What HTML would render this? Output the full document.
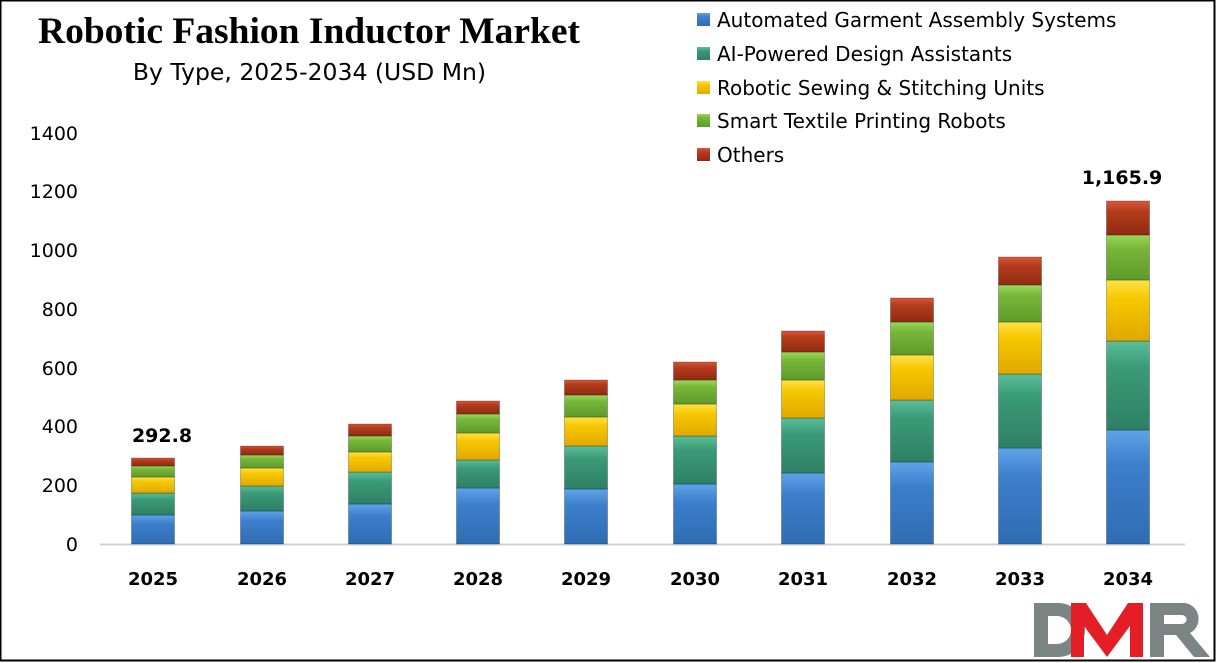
<!DOCTYPE html><html><head><style>body{margin:0;background:#fff}svg{display:block}</style></head><body>
<svg width="1216" height="663" xmlns="http://www.w3.org/2000/svg" font-family="DejaVu Sans, sans-serif">
<defs>
<linearGradient id="gb" x1="0" x2="0" y1="0" y2="1"><stop offset="0" stop-color="#5fa3ea"/><stop offset="0.3" stop-color="#3c7fcb"/><stop offset="1" stop-color="#2f6cb3"/></linearGradient>
<linearGradient id="gg" x1="0" x2="0" y1="0" y2="1"><stop offset="0" stop-color="#5cbf98"/><stop offset="0.3" stop-color="#3a9a78"/><stop offset="1" stop-color="#2e8064"/></linearGradient>
<linearGradient id="gy" x1="0" x2="0" y1="0" y2="1"><stop offset="0" stop-color="#ffe14a"/><stop offset="0.3" stop-color="#f7c800"/><stop offset="1" stop-color="#e0a800"/></linearGradient>
<linearGradient id="gl" x1="0" x2="0" y1="0" y2="1"><stop offset="0" stop-color="#9ad85a"/><stop offset="0.3" stop-color="#78b63a"/><stop offset="1" stop-color="#5e9a2a"/></linearGradient>
<linearGradient id="gr" x1="0" x2="0" y1="0" y2="1"><stop offset="0" stop-color="#d8583a"/><stop offset="0.3" stop-color="#b53c1c"/><stop offset="1" stop-color="#8f2a12"/></linearGradient>
</defs>
<rect x="0.5" y="0.5" width="1214" height="660" fill="#fff" stroke="#000" stroke-width="2"/>
<text x="309" y="43" text-anchor="middle" font-family="Liberation Serif, serif" font-weight="bold" font-size="37.5">Robotic Fashion Inductor Market</text>
<text x="309.5" y="80" text-anchor="middle" font-size="23.5">By Type, 2025-2034 (USD Mn)</text>
<g font-size="19" text-anchor="end" fill="#000">
<text x="78" y="551">0</text><text x="78" y="492">200</text><text x="78" y="433">400</text><text x="78" y="375">600</text><text x="78" y="316">800</text><text x="78" y="257">1000</text><text x="78" y="198">1200</text><text x="78" y="140">1400</text>
</g>
<line x1="100" y1="544.5" x2="1185" y2="544.5" stroke="#d0d0d0" stroke-width="2"/>
<g stroke="rgba(0,0,0,0.25)" stroke-width="1">
<g transform="translate(131.5,0)"><rect y="515" width="43" height="29" fill="url(#gb)"/><rect y="493" width="43" height="22" fill="url(#gg)"/><rect y="477" width="43" height="16" fill="url(#gy)"/><rect y="466" width="43" height="11" fill="url(#gl)"/><rect y="458" width="43" height="8" fill="url(#gr)"/></g>
<g transform="translate(240.5,0)"><rect y="511" width="43" height="33" fill="url(#gb)"/><rect y="486" width="43" height="25" fill="url(#gg)"/><rect y="468" width="43" height="18" fill="url(#gy)"/><rect y="455" width="43" height="13" fill="url(#gl)"/><rect y="446" width="43" height="9" fill="url(#gr)"/></g>
<g transform="translate(348.5,0)"><rect y="504" width="43" height="40" fill="url(#gb)"/><rect y="472" width="43" height="32" fill="url(#gg)"/><rect y="452" width="43" height="20" fill="url(#gy)"/><rect y="436" width="43" height="16" fill="url(#gl)"/><rect y="424" width="43" height="12" fill="url(#gr)"/></g>
<g transform="translate(456.5,0)"><rect y="488" width="43" height="56" fill="url(#gb)"/><rect y="460" width="43" height="28" fill="url(#gg)"/><rect y="433" width="43" height="27" fill="url(#gy)"/><rect y="414" width="43" height="19" fill="url(#gl)"/><rect y="401" width="43" height="13" fill="url(#gr)"/></g>
<g transform="translate(564.5,0)"><rect y="489" width="43" height="55" fill="url(#gb)"/><rect y="446" width="43" height="43" fill="url(#gg)"/><rect y="417" width="43" height="29" fill="url(#gy)"/><rect y="395" width="43" height="22" fill="url(#gl)"/><rect y="380" width="43" height="15" fill="url(#gr)"/></g>
<g transform="translate(673.5,0)"><rect y="484" width="43" height="60" fill="url(#gb)"/><rect y="436" width="43" height="48" fill="url(#gg)"/><rect y="404" width="43" height="32" fill="url(#gy)"/><rect y="380" width="43" height="24" fill="url(#gl)"/><rect y="362" width="43" height="18" fill="url(#gr)"/></g>
<g transform="translate(781.5,0)"><rect y="473" width="43" height="71" fill="url(#gb)"/><rect y="418" width="43" height="55" fill="url(#gg)"/><rect y="380" width="43" height="38" fill="url(#gy)"/><rect y="352" width="43" height="28" fill="url(#gl)"/><rect y="331" width="43" height="21" fill="url(#gr)"/></g>
<g transform="translate(890.5,0)"><rect y="462" width="43" height="82" fill="url(#gb)"/><rect y="400" width="43" height="62" fill="url(#gg)"/><rect y="355" width="43" height="45" fill="url(#gy)"/><rect y="322" width="43" height="33" fill="url(#gl)"/><rect y="298" width="43" height="24" fill="url(#gr)"/></g>
<g transform="translate(998.5,0)"><rect y="448" width="43" height="96" fill="url(#gb)"/><rect y="374" width="43" height="74" fill="url(#gg)"/><rect y="322" width="43" height="52" fill="url(#gy)"/><rect y="285" width="43" height="37" fill="url(#gl)"/><rect y="257" width="43" height="28" fill="url(#gr)"/></g>
<g transform="translate(1106.5,0)"><rect y="430" width="43" height="114" fill="url(#gb)"/><rect y="341" width="43" height="89" fill="url(#gg)"/><rect y="280" width="43" height="61" fill="url(#gy)"/><rect y="235" width="43" height="45" fill="url(#gl)"/><rect y="201" width="43" height="34" fill="url(#gr)"/></g>
</g>
<g font-size="18" font-weight="bold" text-anchor="middle">
<text x="153" y="585">2025</text><text x="262" y="585">2026</text><text x="370" y="585">2027</text><text x="478" y="585">2028</text><text x="586" y="585">2029</text><text x="695" y="585">2030</text><text x="803" y="585">2031</text><text x="912" y="585">2032</text><text x="1020" y="585">2033</text><text x="1128" y="585">2034</text>
<text x="162" y="442" font-size="19">292.8</text>
<text x="1122" y="184" font-size="19">1,165.9</text>
</g>
<g font-size="20">
<rect x="697" y="13" width="13" height="13" fill="url(#gb)"/><text x="717" y="27">Automated Garment Assembly Systems</text>
<rect x="697" y="47" width="13" height="13" fill="url(#gg)"/><text x="717" y="61">AI-Powered Design Assistants</text>
<rect x="697" y="81" width="13" height="13" fill="url(#gy)"/><text x="717" y="95">Robotic Sewing &amp; Stitching Units</text>
<rect x="697" y="114" width="13" height="13" fill="url(#gl)"/><text x="717" y="128">Smart Textile Printing Robots</text>
<rect x="697" y="148" width="13" height="13" fill="url(#gr)"/><text x="717" y="162">Others</text>
</g>
<g>
<path d="M1034 603 H1058 A27 27 0 0 1 1058 657 H1034 Z M1048 616 V644 H1057 A14 14 0 0 0 1057 616 Z" fill="#7b8684" fill-rule="evenodd"/>
<path d="M1071 603 H1086 L1107 635 L1128 603 H1143 V657 H1130 V626 L1107 657 L1084 626 V657 H1071 Z" fill="#e41e26"/>
<path d="M1150 603 H1185 A16 16 0 0 1 1190 633 L1210 657 H1194 L1176 635 H1164 V657 H1150 Z M1164 615 V624 H1182 A4.5 4.5 0 0 0 1182 615 Z" fill="#7b8684" fill-rule="evenodd"/>
</g>
</svg></body></html>
